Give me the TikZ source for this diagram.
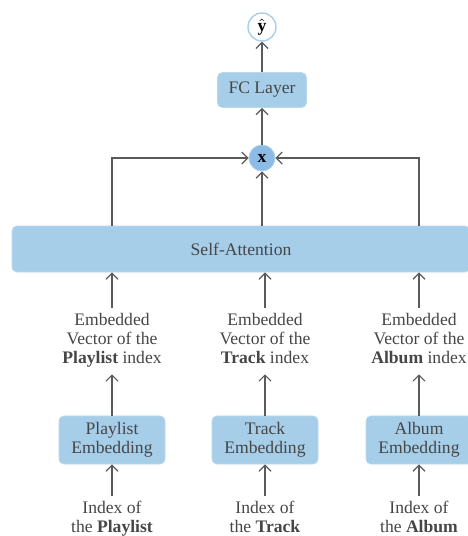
\documentclass[tikz,border=0pt]{standalone}
\usepackage{fontspec}
\setmainfont{Liberation Serif}
\usepackage{tikz}
\usetikzlibrary{arrows.meta, positioning}
\definecolor{boxblue}{RGB}{166,206,233}
\definecolor{dotblue}{RGB}{140,188,230}
\definecolor{ringblue}{RGB}{168,206,238}
\definecolor{txtgray}{RGB}{70,70,70}
\definecolor{arrgray}{RGB}{90,90,90}
\tikzset{
  layerbox/.style={rectangle, rounded corners=2.5pt, fill=boxblue, draw=boxblue!80!white, text=txtgray, align=center},
  embbox/.style={layerbox, minimum width=53pt, minimum height=22.5pt},
  lbl/.style={anchor=north, align=center, text=txtgray, inner sep=2.5pt, execute at end node=\strut},
  conn/.style={-{Straight Barb[length=3pt,width=6pt]}, arrgray, line width=0.6pt},
}

\begin{document}
\begin{tikzpicture}[x=0.5pt, y=-0.5pt, font=\fontsize{8.8}{9.4}\selectfont]
            \useasboundingbox (0,0) rectangle (467,536);
            \node[circle, draw=ringblue, line width=0.7pt, fill=white, minimum size=14pt, inner sep=0pt] (yhat) at (262,27) {$\hat{\mathbf{y}}$};
            \node[layerbox, minimum width=44.5pt, minimum height=17.5pt] (fc) at (262,90) {FC Layer};
            \node[circle, fill=dotblue, draw=ringblue, minimum size=13pt, inner sep=0pt] (mul) at (262,158) {$\mathbf{x}$};
            \node[layerbox, minimum width=229pt, minimum height=23pt] (att) at (241,249) {Self-Attention};
            \node[lbl] (pvec) at (112,308) {Embedded\\Vector of the\\\textbf{Playlist} index};
            \node[lbl] (tvec) at (265,308) {Embedded\\Vector of the\\\textbf{Track} index};
            \node[lbl] (avec) at (419,308) {Embedded\\Vector of the\\\textbf{Album} index};
            \node[embbox] (pemb) at (112,440) {Playlist\\Embedding};
            \node[embbox] (temb) at (265,440) {Track\\Embedding};
            \node[embbox] (aemb) at (419,440) {Album\\Embedding};
            \node[lbl] (pidx) at (112,496) {Index of\\the \textbf{Playlist}};
            \node[lbl] (tidx) at (265,496) {Index of\\the \textbf{Track}};
            \node[lbl] (aidx) at (419,496) {Index of\\the \textbf{Album}};
            \draw[conn] (fc) -- (yhat);
            \draw[conn] (mul) -- (fc);
            \draw[conn] (att.north -| mul) -- (mul);
            \draw[conn] (att.north -| pvec) |- (mul);
            \draw[conn] (att.north -| avec) |- (mul);
            \draw[conn] (pvec) -- (pvec |- att.south);
            \draw[conn] (tvec) -- (tvec |- att.south);
            \draw[conn] (avec) -- (avec |- att.south);
            \draw[conn] (pemb) -- (pvec);
            \draw[conn] (temb) -- (tvec);
            \draw[conn] (aemb) -- (avec);
            \draw[conn] (pidx) -- (pemb);
            \draw[conn] (tidx) -- (temb);
            \draw[conn] (aidx) -- (aemb);
        \end{tikzpicture}
\end{document}
